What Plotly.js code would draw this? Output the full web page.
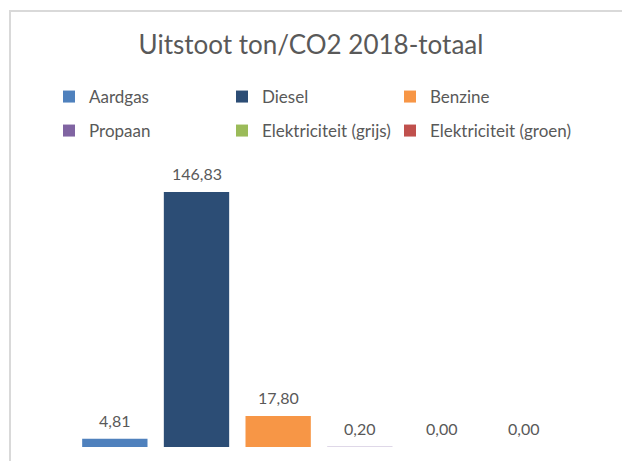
<!DOCTYPE html>
<html>
<head>
<meta charset="utf-8">
<script src="https://cdn.plot.ly/plotly-3.0.1.min.js"></script>
<style>
  html, body { margin: 0; padding: 0; background: #ffffff; }
  #wrap { position: relative; width: 622px; height: 461px; overflow: hidden; }
  #frame { position: absolute; left: 9px; top: 10px; width: 800px; height: 800px;
           border-left: 2px solid #d9d9d9; border-top: 2px solid #d9d9d9; }
  #chart { position: absolute; left: 0; top: 0; width: 622px; height: 461px; }
</style>
</head>
<body>
<div id="wrap">
  <div id="frame"></div>
  <div id="chart"></div>
</div>
<script>
// ---- data ----
const categories = ["Aardgas", "Diesel", "Benzine", "Propaan", "Elektriciteit (grijs)", "Elektriciteit (groen)"];
const values = [4.81, 146.83, 17.80, 0.20, 0.00, 0.00];
const colors = ["#4F81BD", "#2C4D75", "#F79646", "#8064A2", "#9BBB59", "#C0504D"];
const chartTitle = "Uitstoot ton/CO2 2018-totaal";

const fontFam = "Lato, 'Open Sans', sans-serif";
const textCol = "#595959";

// legend grid: 3 columns x 2 rows (pixel positions of each legend box)
const legendColX = [49, 222, 390];
const legendRowY = [97, 131];

const legendKey = i => (i === 0 ? "legend" : "legend" + (i + 1));

const traces = categories.map((name, i) => ({
  type: "bar",
  name: name,
  x: [name],
  y: [values[i]],
  marker: { color: colors[i] },
  width: 0.8,
  hoverinfo: "name+y",
  legend: legendKey(i)
}));

const fmt = v => v.toFixed(2).replace(".", ",");
const annotations = categories.map((name, i) => ({
  x: name, y: values[i], xref: "x", yref: "y",
  text: fmt(values[i]), showarrow: false,
  yanchor: "bottom", yshift: 7,
  font: { family: fontFam, size: 16, color: textCol }
}));

const layout = {
  width: 622, height: 461,
  margin: { l: 74, r: 58, t: 160, b: 14 },
  paper_bgcolor: "rgba(0,0,0,0)",
  plot_bgcolor: "rgba(0,0,0,0)",
  barmode: "overlay",
  title: {
    text: chartTitle,
    font: { family: fontFam, size: 26, color: textCol },
    x: 0.5, xref: "container", xanchor: "center",
    y: 1 - 45 / 461, yref: "container", yanchor: "middle"
  },
  xaxis: {
    type: "category", categoryorder: "array", categoryarray: categories,
    range: [-0.5, 5.5], showticklabels: false, showgrid: false,
    zeroline: false, showline: false, ticks: ""
  },
  yaxis: {
    range: [0, 165.25], showticklabels: false, showgrid: false,
    zeroline: false, showline: false, ticks: ""
  },
  showlegend: true,
  annotations: annotations
};

categories.forEach((name, i) => {
  layout[legendKey(i)] = {
    orientation: "h",
    xref: "container", yref: "container",
    xanchor: "left", yanchor: "middle",
    x: legendColX[i % 3] / 622,
    y: 1 - legendRowY[Math.floor(i / 3)] / 461,
    font: { family: fontFam, size: 17, color: textCol },
    bgcolor: "rgba(0,0,0,0)"
  };
});

Plotly.newPlot("chart", traces, layout, { displayModeBar: false, staticPlot: true });
</script>
</body>
</html>
